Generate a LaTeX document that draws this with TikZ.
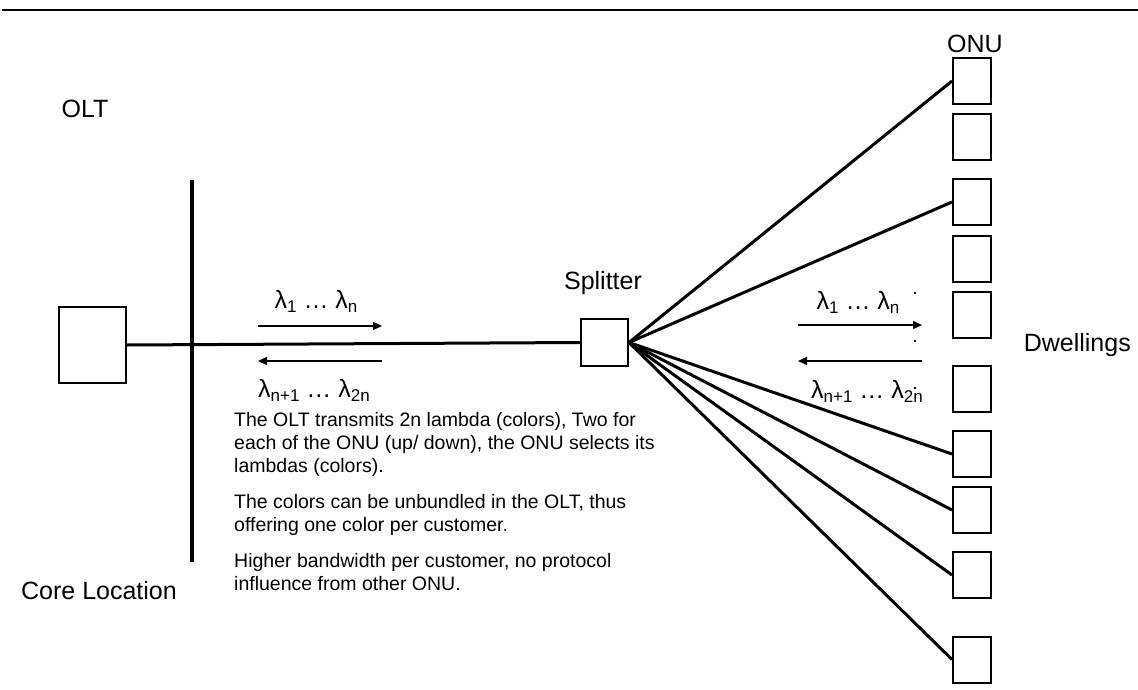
\documentclass[tikz,border=0pt]{standalone}
\usepackage{fontspec}
\setmainfont{Liberation Sans}
\usetikzlibrary{arrows.meta}
\newcommand\lsub[1]{\raisebox{-4pt}{\fontsize{17}{17}\selectfont #1}}
\begin{document}
\begin{tikzpicture}[x=1pt,y=-1pt,>={Triangle[length=9pt,width=8pt]},
  box/.style={draw,line width=2pt,inner sep=0pt},
  onu/.style={box,minimum width=38pt,minimum height=46pt},
  fibre/.style={line width=3pt},
  wave/.style={->,line width=1.3pt},
  lbl/.style={font=\fontsize{25}{30}\selectfont,inner sep=0pt}]
\useasboundingbox (0,0) rectangle (1138,690);
\draw[line width=2.5pt] (2,10) -- (1138,10);
% core side
\node[box,minimum width=67pt,minimum height=76pt] (olt) at (92.5,345) {};
\coordinate (bartop) at (192,180);
\coordinate (barbot) at (192,562);
\draw[line width=4.5pt] (bartop) -- (barbot);
\node[box,minimum size=47pt] (split) at (604.5,342.5) {};
\draw[fibre] (olt.east) -- (split.west);
\node[lbl,anchor=base] (oltlbl) at (85,118) {OLT};
\node[lbl,anchor=base] (corelbl) at (99,599) {Core Location};
\node[lbl,anchor=base] (splitlbl) at (603,289) {Splitter};
% ONUs
\foreach \i/\y in {1/81,2/137,3/202,4/258.5,5/314.5,6/389,7/454,8/510,9/575,10/659.5}
  \node[onu] (onu\i) at (972,\y) {};
\node[lbl,anchor=base] (onulbl) at (975,53) {ONU};
\node[lbl,anchor=base east] (dwell) at (1131,351) {Dwellings};
\foreach \i in {1,3,7,8,9,10}
  \draw[fibre] (split.east) -- (onu\i.west);
% wavelengths
\coordinate (la) at (258,326); \coordinate (lb) at (382,326);
\coordinate (lc) at (382,361); \coordinate (ld) at (258,361);
\draw[wave] (la) -- (lb);
\draw[wave] (lc) -- (ld);
\node[lbl,anchor=base] (ldown) at (316,308) {λ\lsub{1} … λ\lsub{n}};
\node[lbl,anchor=base] (lup) at (314,397) {λ\lsub{n+1} … λ\lsub{2n}};
\coordinate (ra) at (798,325); \coordinate (rb) at (922,325);
\coordinate (rc) at (922,361); \coordinate (rd) at (798,361);
\draw[wave] (ra) -- (rb);
\draw[wave] (rc) -- (rd);
\node[lbl,anchor=base] (rdown) at (858,309) {λ\lsub{1} … λ\lsub{n}};
\node[lbl,anchor=base] (rup) at (867,398) {λ\lsub{n+1} … λ\lsub{2n}};
\foreach \y in {293,341,388}
  \fill (915,\y) circle (1.3pt);
% notes
\node[anchor=north west,inner sep=0pt,align=left,
  font=\fontsize{19.5}{23}\selectfont] (notes) at (234,412)
  {The OLT transmits 2n lambda (colors), Two for\\
   each of the ONU (up/ down), the ONU selects its\\
   lambdas (colors).\\[13pt]
   The colors can be unbundled in the OLT, thus\\
   offering one color per customer.\\[13pt]
   Higher bandwidth per customer, no protocol\\
   influence from other ONU.};
\end{tikzpicture}
\end{document}
